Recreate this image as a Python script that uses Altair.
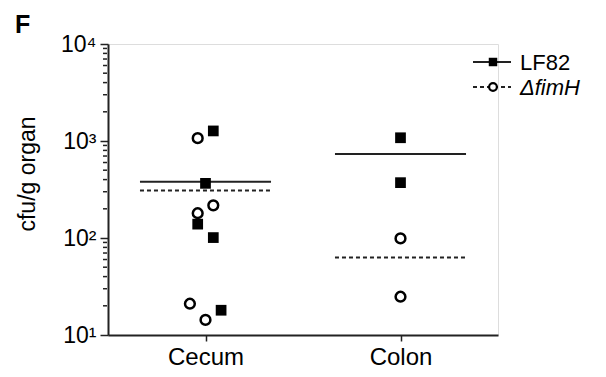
import altair as alt
import pandas as pd

# ---- data ----
organs = ["Cecum", "Colon"]
strains = ["LF82", "ΔfimH"]

cecum_lf82 = [1270, 366, 139, 101, 18]
cecum_lf82_jitter = [0.04, 0.0, -0.04, 0.04, 0.08]
cecum_fimh = [1070, 217, 180, 21, 14.3]
cecum_fimh_jitter = [-0.04, 0.04, -0.04, -0.08, 0.0]
colon_lf82 = [1080, 372]
colon_lf82_jitter = [0.0, 0.0]
colon_fimh = [99, 24.8]
colon_fimh_jitter = [0.0, 0.0]

mean_lf82 = [380, 735]
mean_fimh = [308, 63]

y_ticks = [10, 100, 1000, 10000]
y_minor = [m * 10 ** e for e in (1, 2, 3) for m in range(2, 10)]
y_title = "cfu/g organ"
panel_letter = "F"

# ---- build tables ----
rows = []


def add(vals, jit, organ_i, strain):
    for v, j in zip(vals, jit):
        rows.append({"x": organ_i + 0.5 + j, "y": v, "strain": strain})


add(cecum_lf82, cecum_lf82_jitter, 0, strains[0])
add(cecum_fimh, cecum_fimh_jitter, 0, strains[1])
add(colon_lf82, colon_lf82_jitter, 1, strains[0])
add(colon_fimh, colon_fimh_jitter, 1, strains[1])
pts = pd.DataFrame(rows)

half = 0.336
means = pd.DataFrame(
    [{"x": i + 0.5 - half, "x2": i + 0.5 + half, "y": mean_lf82[i], "strain": strains[0]} for i in range(2)]
    + [{"x": i + 0.5 - half, "x2": i + 0.5 + half, "y": mean_fimh[i], "strain": strains[1]} for i in range(2)]
)

# minor ticks: short stubs just left of the y axis (x in scale units, 1 unit = 195 px)
MINOR_FROM, MINOR_TO = -5 / 195, -1 / 195
minor = pd.DataFrame({"x": [MINOR_FROM] * len(y_minor),
                      "x2": [MINOR_TO] * len(y_minor),
                      "y": [float(v) for v in y_minor]})

FONT = "Liberation Sans"
INK = "#222222"

xscale = alt.Scale(domain=[0, 2], nice=False, zero=False)
yscale = alt.Scale(type="log", domain=[10, 10000], nice=False)

label_expr = ("datum.value == 10 ? '10¹' : datum.value == 100 ? '10²' : "
              "datum.value == 1000 ? '10³' : '10⁴'")

xaxis = alt.Axis(values=[0.5, 1.5], title=None, grid=False,
                 labelExpr="datum.value < 1 ? 'Cecum' : 'Colon'",
                 labelFont=FONT, labelFontSize=24, labelColor="black",
                 tickSize=6, tickWidth=1.5, tickColor=INK,
                 domainColor=INK, domainWidth=2, labelPadding=4)
yaxis = alt.Axis(values=y_ticks, labelExpr=label_expr, title=None,
                 grid=False, labelFont=FONT, labelFontSize=23, labelColor="black",
                 tickSize=8, tickWidth=1.5, tickColor=INK,
                 domainColor=INK, domainWidth=2, labelPadding=4)

X = alt.X("x:Q", scale=xscale, axis=xaxis)
Y = alt.Y("y:Q", scale=yscale, axis=yaxis)

minor_ticks = alt.Chart(minor).mark_rule(color=INK, strokeWidth=1.5).encode(
    x=X, x2="x2:Q", y=Y
)

base = alt.Chart(pts)
sq = base.transform_filter(alt.datum.strain == strains[0]).mark_point(
    shape="square", filled=True, color="black", size=115, opacity=1
).encode(x=X, y=Y)
circ = base.transform_filter(alt.datum.strain == strains[1]).mark_point(
    shape="circle", filled=False, color="black", size=95, strokeWidth=2.5, opacity=1
).encode(x=X, y=Y)
mean_solid = alt.Chart(means).transform_filter(alt.datum.strain == strains[0]).mark_rule(
    color=INK, strokeWidth=2
).encode(x=X, x2="x2:Q", y=Y)
mean_dash = alt.Chart(means).transform_filter(alt.datum.strain == strains[1]).mark_rule(
    color=INK, strokeWidth=2, strokeDash=[4, 3]
).encode(x=X, x2="x2:Q", y=Y)

# ---- legend and labels (drawn by hand) ----
leg = pd.DataFrame({"strain": strains, "row": [0, 1]})
legend_line_solid = alt.Chart(leg).transform_filter(alt.datum.row == 0).mark_rule(
    color=INK, strokeWidth=2).encode(x=alt.value(365), x2=alt.value(403), y=alt.value(18))
legend_line_dash = alt.Chart(leg).transform_filter(alt.datum.row == 1).mark_rule(
    color=INK, strokeWidth=2, strokeDash=[4, 3]).encode(x=alt.value(365), x2=alt.value(403), y=alt.value(43))
legend_sq = alt.Chart(leg).transform_filter(alt.datum.row == 0).mark_point(
    shape="square", filled=True, color="black", size=72, opacity=1
).encode(x=alt.value(385), y=alt.value(18))
legend_circ = alt.Chart(leg).transform_filter(alt.datum.row == 1).mark_point(
    shape="circle", filled=True, fill="white", stroke="black", size=60, strokeWidth=2.2, opacity=1
).encode(x=alt.value(385), y=alt.value(43))
legend_t1 = alt.Chart(leg).transform_filter(alt.datum.row == 0).mark_text(
    align="left", baseline="middle", font=FONT, fontSize=22, color="black"
).encode(x=alt.value(412), y=alt.value(19), text="strain:N")
legend_t2 = alt.Chart(leg).transform_filter(alt.datum.row == 1).mark_text(
    align="left", baseline="middle", font=FONT, fontSize=22, color="black", fontStyle="italic"
).encode(x=alt.value(412), y=alt.value(44), text="strain:N")

panel = alt.Chart(pd.DataFrame({"t": [panel_letter]})).mark_text(
    align="left", baseline="alphabetic", font=FONT, fontSize=25, fontWeight="bold", color="black"
).encode(x=alt.value(-93), y=alt.value(-11), text="t:N")
ytitle = alt.Chart(pd.DataFrame({"t": [y_title]})).mark_text(
    align="center", baseline="middle", font=FONT, fontSize=23, color="black", angle=270
).encode(x=alt.value(-80), y=alt.value(130), text="t:N")

chart = alt.layer(
    minor_ticks, mean_solid, mean_dash, sq, circ,
    legend_line_solid, legend_line_dash, legend_sq, legend_circ, legend_t1, legend_t2,
    panel, ytitle
).properties(
    width=390, height=291,
    autosize=alt.AutoSizeParams(type="none"),
    padding={"left": 100, "top": 36, "right": 100, "bottom": 34},
).configure_view(stroke=None).configure(background="white")

chart.save("out.html", embed_options={"renderer": "svg", "actions": False})
